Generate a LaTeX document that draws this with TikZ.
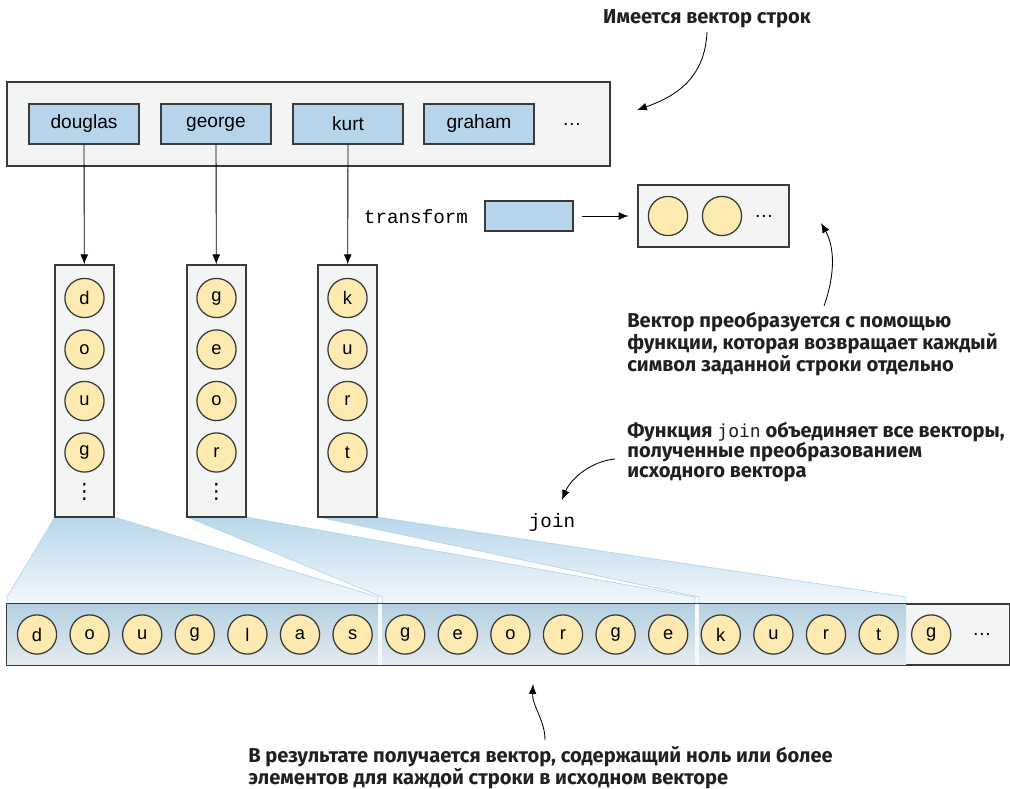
\documentclass[tikz,border=0pt]{standalone}
\usepackage{fontspec}
\setmainfont{Liberation Sans}
\setmonofont{Liberation Mono}
\newfontfamily\notefont{Fira Sans}
\newfontfamily\notemono{DejaVu Sans Mono}
\newfontfamily\dotsfont{DejaVu Sans}
\usetikzlibrary{arrows.meta, positioning, calc}

\definecolor{vecgray}{HTML}{F3F5F5}
\definecolor{strblue}{HTML}{B7D5EA}
\definecolor{chryellow}{HTML}{FDEAB1}
\definecolor{edgegray}{HTML}{3A3A3A}
\definecolor{funtop}{HTML}{B8D7EA}
\definecolor{funbot}{HTML}{F3F8FB}
\definecolor{funline}{HTML}{B6D6EB}
\definecolor{segtop}{HTML}{B5D0E1}
\definecolor{segbot}{HTML}{E5EBEF}
\definecolor{seggap}{HTML}{F6F9FB}
\definecolor{notetext}{HTML}{231F20}

\tikzset{vecbox/.style={draw=edgegray, fill=vecgray, line width=0.9pt, inner sep=0pt}}
\tikzset{strbox/.style={draw=edgegray, fill=strblue, line width=0.9pt, minimum width=2.75cm, minimum height=1cm, inner sep=0pt, font=\fontsize{13.6}{15}\selectfont}}
\tikzset{chr/.style={circle, draw=edgegray, fill=chryellow, line width=0.9pt, minimum size=0.98cm, inner sep=0pt, font=\fontsize{13}{15}\selectfont}}
\tikzset{link/.style={-{Latex[length=7pt, width=5.5pt]}, line width=0.6pt, draw=black}}
\tikzset{note/.style={font=\notefont\bfseries\fontsize{14.3}{14.2}\selectfont, text=notetext, align=left, inner sep=0pt}}
\tikzset{funnel/.style={draw=funline, line width=0.5pt, top color=funtop, bottom color=funbot}}
\tikzset{seg/.style={top color=segtop, bottom color=segbot, draw=none}}
\tikzset{vdot/.style={font=\dotsfont\fontsize{15}{15}\selectfont, inner sep=0pt}}

\begin{document}
\begin{tikzpicture}[x=0.025cm, y=0.025cm]
    \useasboundingbox (0,0) rectangle (1010,-788);

    % input vector of strings
    \node[vecbox, minimum width=15.075cm, minimum height=2.1cm] (input) at (308.5,-124) {};
    \foreach \w/\x in {douglas/84, george/216, kurt/348, graham/479} {
        \node[strbox] (\w) at (\x,-124) {\w};
    }
    \node[font=\fontsize{13.6}{15}\selectfont] (indots) at (572,-124) {\dots};

    % funnels into the joined vector
    \path[funnel] (84.5-29.5,-517) -- (84.5+29.5,-517) -- (378,-597) -- (378,-604) -- (7,-604) -- (7,-597) -- cycle;
    \path[funnel] (216.5-29.5,-517) -- (216.5+29.5,-517) -- (695,-597) -- (695,-604) -- (382,-604) -- (382,-597) -- cycle;
    \path[funnel] (347.5-29.5,-517) -- (347.5+29.5,-517) -- (906,-597) -- (906,-604) -- (699,-604) -- (699,-597) -- cycle;

    % one vector of characters per string
    \foreach \x [count=\c] in {84.5, 216.5, 347.5} {
        \node[vecbox, minimum width=1.475cm, minimum height=6.3cm] (col\c) at (\x,-391) {};
    }
    \foreach \ch [count=\i] in {d,o,u,g} \node[chr] (d\i) at (84.5,{-298-51.5*(\i-1)}) {\ch};
    \foreach \ch [count=\i] in {g,e,o,r} \node[chr] (g\i) at (216.5,{-298-51.5*(\i-1)}) {\ch};
    \foreach \ch [count=\i] in {k,u,r,t} \node[chr] (k\i) at (347.5,{-298-51.5*(\i-1)}) {\ch};
    \node[vdot] (ddots) at (84.5,-492) {⋮};
    \node[vdot] (gdots) at (216.5,-492) {⋮};

    \foreach \w/\c in {douglas/1, george/2, kurt/3} {
        \draw[link] (\w) -- (col\c);
    }

    % transform
    \node[font=\ttfamily\fontsize{13.7}{15}\selectfont, anchor=east] (tlabel) at (473,-217) {transform};
    \node[draw=edgegray, fill=strblue, line width=0.9pt, minimum width=2.2cm, minimum height=0.75cm] (fn) at (529,-216) {};
    \node[vecbox, minimum width=3.775cm, minimum height=1.55cm] (fnout) at (713.5,-216) {};
    \node[chr] (fo1) at (668,-216) {};
    \node[chr] (fo2) at (722,-216) {};
    \node[font=\fontsize{13.6}{15}\selectfont] (fodots) at (764,-216) {\dots};
    \draw[link, shorten <=0.2cm, shorten >=0.22cm] (fn) -- (fnout);

    % joined vector
    \node[vecbox, minimum width=25.05cm, minimum height=1.525cm] (res) at (508,-634.5) {};
    \path[seg] (7,-604) rectangle (378,-665);
    \path[seg] (382,-604) rectangle (695,-665);
    \path[seg] (699,-604) rectangle (906,-665);
    \fill[seggap] (378,-604) rectangle (382,-665);
    \fill[seggap] (695,-604) rectangle (699,-665);
    \draw[edgegray, line width=0.9pt] (res.south west) rectangle (res.north east);
    \foreach \ch [count=\i from 0] in {d,o,u,g,l,a,s,g,e,o,r,g,e,k,u,r,t,g} {
        \node[chr] (r\i) at ({37+52.6*\i},-634.5) {\ch};
    }
    \node[font=\fontsize{13.6}{15}\selectfont] (resdots) at (982,-634.5) {\dots};
    \node[font=\ttfamily\fontsize{13.7}{15}\selectfont] (jlabel) at (552,-523) {join};

    % notes
    \node[note, anchor=north] (n1) at (707,-9) {Имеется вектор строк};
    \draw[link] (707,-32) .. controls (705,-75) and (680,-95) .. (637,-110);

    \node[note, anchor=north west] (n2) at (627,-312) {Вектор преобразуется с помощью\\функции, которая возвращает каждый\\символ заданной строки отдельно};
    \draw[link] (824,-306) .. controls (836,-272) and (834,-246) .. (821,-223);

    \node[note, anchor=north west] (n3) at (627,-422) {Функция {\notemono\mdseries\fontsize{12.8}{14}\selectfont join} объединяет все векторы,\\полученные преобразованием\\исходного вектора};
    \draw[link] (615,-459) .. controls (592,-461) and (571,-478) .. (562,-500);

    \node[note, anchor=north west] (n4) at (248,-746) {В результате получается вектор, содержащий ноль или более\\элементов для каждой строки в исходном векторе};
    \draw[link] (545,-740) .. controls (545,-720) and (532,-706) .. (533,-684);
\end{tikzpicture}
\end{document}
